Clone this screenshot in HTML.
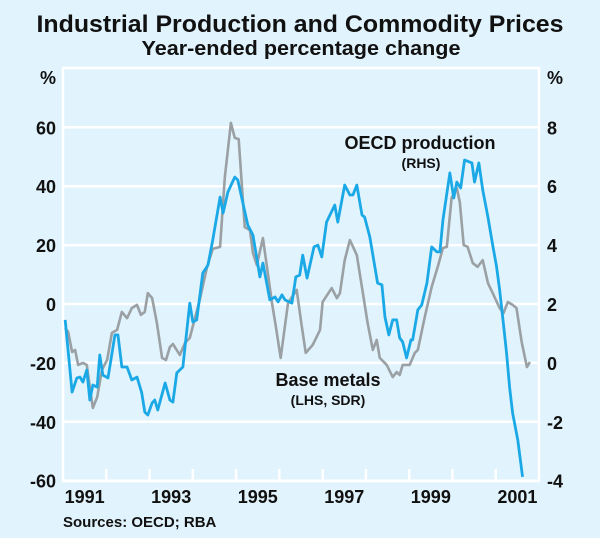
<!DOCTYPE html>
<html><head><meta charset="utf-8"><style>
body{margin:0;background:#e1f3fc;}
svg{display:block;font-family:"Liberation Sans",sans-serif;}
</style></head><body>
<svg width="600" height="538" viewBox="0 0 600 538">
<rect x="0" y="0" width="600" height="538" fill="#e1f3fc"/>
<text x="300" y="32" text-anchor="middle" font-size="24" font-weight="bold" fill="#111" textLength="527" lengthAdjust="spacingAndGlyphs">Industrial Production and Commodity Prices</text>
<text x="301" y="55" text-anchor="middle" font-size="20" font-weight="bold" fill="#111" textLength="319" lengthAdjust="spacingAndGlyphs">Year-ended percentage change</text>
<g id="grid"></g>
<g id="series"></g>
<g id="labels" font-weight="bold" fill="#111"></g>
<text x="420" y="149" text-anchor="middle" font-size="18" font-weight="bold" fill="#111">OECD production</text>
<text x="421" y="168" text-anchor="middle" font-size="14" font-weight="bold" fill="#111">(RHS)</text>
<text x="328" y="386" text-anchor="middle" font-size="18" font-weight="bold" fill="#111">Base metals</text>
<text x="328" y="405" text-anchor="middle" font-size="14" font-weight="bold" fill="#111">(LHS, SDR)</text>
<text x="63" y="527" font-size="15" font-weight="bold" fill="#111">Sources: OECD; RBA</text>
</svg>
<script>
const metalDates=[1991.05,1991.12,1991.21,1991.28,1991.35,1991.46,1991.55,1991.62,1991.69,1991.79,1991.90,1992.02,1992.13,1992.25,1992.36,1992.48,1992.59,1992.71,1992.80,1992.89,1992.96,1993.06,1993.17,1993.29,1993.38,1993.47,1993.54,1993.70,1993.82,1993.93,1994.16,1994.33,1994.46,1994.63,1994.74,1994.88,1994.97,1995.06,1995.20,1995.32,1995.39,1995.48,1995.62,1995.83,1995.92,1996.03,1996.20,1996.40,1996.52,1996.61,1996.77,1996.94,1997.00,1997.21,1997.33,1997.40,1997.51,1997.63,1997.79,1997.93,1998.04,1998.16,1998.25,1998.32,1998.48,1998.62,1998.71,1998.78,1998.85,1999.01,1999.13,1999.20,1999.36,1999.52,1999.66,1999.78,1999.87,1999.98,2000.10,2000.17,2000.26,2000.35,2000.47,2000.58,2000.70,2000.82,2000.93,2001.09,2001.18,2001.28,2001.39,2001.48,2001.60,2001.72,2001.79];
const metalValues=[-8.1,-9.5,-16.3,-15.6,-20.7,-20.0,-20.7,-28.2,-35.3,-31.6,-22.4,-19.0,-9.8,-8.8,-2.7,-4.8,-1.4,-0.3,-3.7,-2.7,3.7,2.0,-6.5,-18.3,-19.0,-14.6,-13.6,-17.3,-13.2,-11.5,1.4,12.6,18.7,19.4,43.1,61.5,56.4,56.0,26.1,25.1,17.3,13.2,22.4,0.3,-7.8,-18.3,0.3,4.8,-7.8,-16.6,-13.9,-8.8,0.7,5.4,2.0,3.7,14.9,21.7,16.6,3.7,-6.5,-15.6,-12.2,-18.3,-20.7,-24.8,-23.1,-24.1,-20.7,-20.7,-16.6,-15.6,-4.4,5.8,12.6,19.0,19.4,36.0,39.4,34.6,20.0,19.4,13.9,12.6,14.9,7.1,3.7,-1.4,-3.1,0.7,-0.3,-1.4,-12.9,-21.4,-19.7];
const oecdDates=[1991.05,1991.21,1991.32,1991.39,1991.46,1991.55,1991.62,1991.69,1991.79,1991.85,1991.92,1992.04,1992.20,1992.27,1992.36,1992.48,1992.59,1992.71,1992.82,1992.89,1992.96,1993.06,1993.12,1993.19,1993.36,1993.47,1993.54,1993.63,1993.77,1993.93,1994.00,1994.09,1994.23,1994.35,1994.46,1994.63,1994.70,1994.81,1994.97,1995.04,1995.27,1995.39,1995.55,1995.62,1995.78,1995.90,1995.97,1996.06,1996.13,1996.29,1996.38,1996.47,1996.54,1996.64,1996.80,1996.89,1996.98,1997.09,1997.28,1997.35,1997.51,1997.63,1997.70,1997.79,1997.91,1997.97,1998.09,1998.27,1998.37,1998.44,1998.53,1998.62,1998.71,1998.78,1998.85,1998.94,1999.04,1999.08,1999.20,1999.29,1999.41,1999.52,1999.64,1999.71,1999.78,1999.94,2000.03,2000.10,2000.19,2000.28,2000.45,2000.51,2000.61,2000.70,2000.82,2000.93,2001.02,2001.09,2001.16,2001.25,2001.32,2001.39,2001.51,2001.62];
const oecdValues=[1.46,-0.99,-0.51,-0.48,-0.65,-0.24,-1.26,-0.75,-0.82,0.27,-0.41,-0.51,0.95,0.95,-0.14,-0.14,-0.58,-0.48,-1.02,-1.67,-1.77,-1.36,-1.26,-1.60,-0.68,-1.26,-1.33,-0.34,-0.14,2.03,1.39,1.46,3.05,3.32,4.17,5.63,5.09,5.80,6.31,6.21,4.68,4.34,2.92,3.39,2.14,2.24,2.07,2.31,2.14,2.03,2.92,2.98,3.66,2.88,3.94,4.00,3.60,4.78,5.36,4.78,6.04,5.70,5.70,6.04,5.02,4.95,4.28,2.71,2.65,1.56,0.95,1.46,1.46,0.85,0.71,0.17,0.78,0.78,1.80,1.97,2.71,3.94,3.77,3.77,4.85,6.45,5.60,6.14,5.94,6.89,6.79,6.14,6.79,5.87,4.95,4.00,3.26,2.48,1.56,0.34,-0.82,-1.70,-2.62,-3.87];
const leftTicks=[60,40,20,0,-20,-40,-60];
const rightTicks=[8,6,4,2,0,-2,-4];
const yearLabels=[1991,1993,1995,1997,1999,2001];

const NS="http://www.w3.org/2000/svg";
const X0=63,X1=539,Y0=68,Y1=481;
const xs=yr=>X0+(yr-1991)*(X1-X0)/11;
const yL=v=>304-v*2.945;
const yR=v=>yL((v-2)*10);
function mk(tag,attrs,parent){const e=document.createElementNS(NS,tag);for(const k in attrs)e.setAttribute(k,attrs[k]);parent.appendChild(e);return e;}
const grid=document.getElementById('grid'),labels=document.getElementById('labels'),series=document.getElementById('series');
const frame=mk('rect',{x:X0,y:Y0,width:X1-X0,height:Y1-Y0,fill:'none',stroke:'#fff','stroke-width':2.5},grid);


leftTicks.forEach((t,i)=>{
  const y=yL(t);
  const g=mk('line',{x1:X0,x2:X1,y1:y,y2:y,stroke:'#fff','stroke-width':2.5},grid);
  
  
  const l=mk('text',{x:56,y:y+7,'text-anchor':'end','font-size':18},labels);l.textContent=t;
  
  
  const r=mk('text',{x:547,y:y+7,'font-size':18},labels);r.textContent=rightTicks[i];
  
  
});
const pl=mk('text',{x:40,y:84,'font-size':18},labels);pl.textContent='%';


const pr=mk('text',{x:547,y:84,'font-size':18},labels);pr.textContent='%';


for(let yr=1992;yr<=2001;yr++){
  const x=xs(yr);
  const t=mk('line',{x1:x,x2:x,y1:Y1,y2:Y1-12,stroke:'#fff','stroke-width':2.5},grid);
  
  
}
yearLabels.forEach(yr=>{
  const t=mk('text',{x:xs(yr+0.5),y:503,'text-anchor':'middle','font-size':18},labels);t.textContent=yr;
  
  
});
const mp=mk('polyline',{points:metalDates.map((d,i)=>xs(d)+','+yL(metalValues[i])).join(' '),fill:'none',stroke:'#9aa0a4','stroke-width':2.6,'stroke-linejoin':'round'},series);


const op=mk('polyline',{points:oecdDates.map((d,i)=>xs(d)+','+yR(oecdValues[i])).join(' '),fill:'none',stroke:'#1aa9e6','stroke-width':2.8,'stroke-linejoin':'round'},series);


</script>
</body></html>
